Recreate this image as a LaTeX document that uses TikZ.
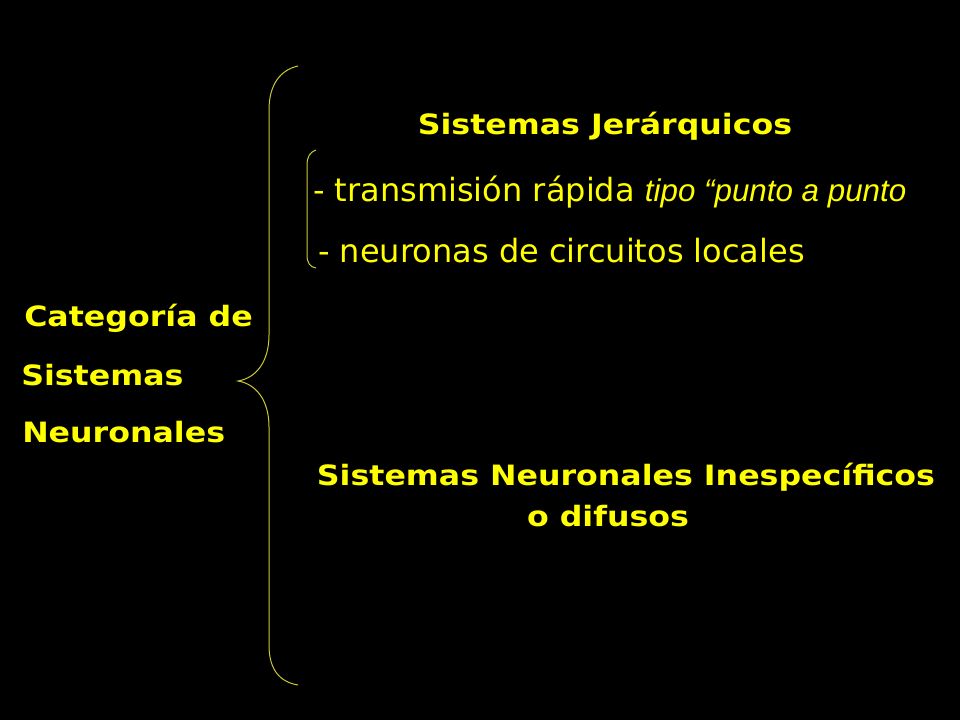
\documentclass[tikz,border=0pt]{standalone}
\usepackage{fontspec}
\setmainfont{DejaVu Sans}
\newfontfamily\widefont{DejaVu Sans}[FakeStretch=1.13]
\newfontfamily\italfont{Liberation Sans}
\definecolor{amarillo}{HTML}{FFFF00}
\definecolor{llave}{HTML}{CCCC30}

\begin{document}
\begin{tikzpicture}[x=0.75pt,y=-0.75pt,
    titulo/.style={text=amarillo,font=\widefont\bfseries\fontsize{21}{25}\selectfont,inner sep=0pt},
    item/.style={text=amarillo,font=\fontsize{24}{28}\selectfont,inner sep=0pt,anchor=west},
    linea/.style={draw=llave,line width=0.75pt}]
    \fill[black] (0,0) rectangle (960,720);
    \useasboundingbox (0,0) rectangle (960,720);

    % categoria principal
    \node[titulo,anchor=west] (cat1) at (24,318) {Categoría de};
    \node[titulo,anchor=west] (cat2) at (21,375) {Sistemas};
    \node[titulo,anchor=west] (cat3) at (22,432) {Neuronales};

    % llave grande
    \draw[linea] (298,66) .. controls (280,70) and (269,85) .. (269,110)
        -- (269,335) .. controls (269,362) and (256,378) .. (238,381)
        .. controls (256,384) and (269,400) .. (269,427)
        -- (269,645) .. controls (269,670) and (280,682) .. (298,685);

    % sistemas jerarquicos
    \node[titulo] (jer) at (605,126) {Sistemas Jerárquicos};
    \draw[linea] (316,150) .. controls (310,152) and (307,157) .. (307,165)
        -- (307,255) .. controls (307,263) and (310,267) .. (316,268);
    \node[item] (trans) at (313,192) {- transmisión rápida {\italfont\itshape\fontsize{23.5}{27}\selectfont tipo “punto a punto}};
    \node[item] (loc) at (318,251) {- neuronas de circuitos locales};

    % sistemas difusos
    \node[titulo] (ines) at (626,477) {Sistemas Neuronales Inespecíficos};
    \node[titulo] (dif) at (608,516) {o difusos};
\end{tikzpicture}
\end{document}
